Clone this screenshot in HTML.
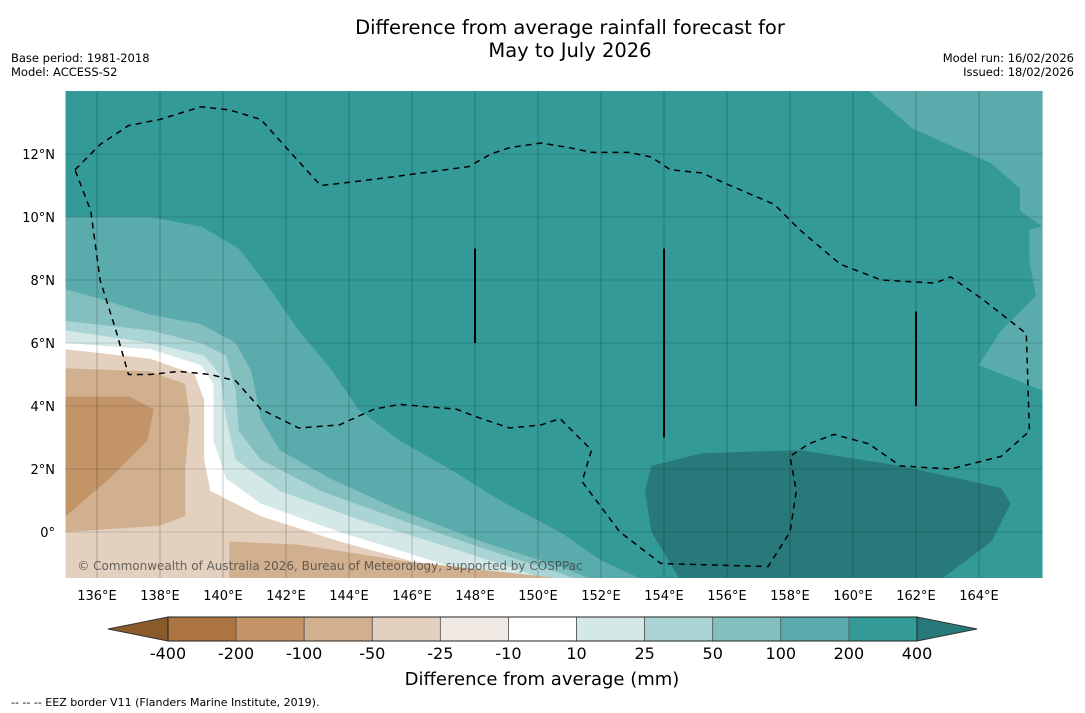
<!DOCTYPE html>
<html><head><meta charset="utf-8"><style>
body{margin:0;background:#fff;width:1085px;height:713px;overflow:hidden;font-family:"Liberation Sans","DejaVu Sans",sans-serif}
svg{display:block}
</style></head><body>
<svg id="c" width="1085" height="713" xmlns="http://www.w3.org/2000/svg">
<text x="570" y="34" font-size="19.5" text-anchor="middle" font-family="DejaVu Sans,sans-serif">Difference from average rainfall forecast for</text>
<text x="570" y="57" font-size="19.5" text-anchor="middle" font-family="DejaVu Sans,sans-serif">May to July 2026</text>
<text x="11" y="62" font-size="11.5" font-family="DejaVu Sans,sans-serif">Base period: 1981-2018</text>
<text x="11" y="76" font-size="11.5" font-family="DejaVu Sans,sans-serif">Model: ACCESS-S2</text>
<text x="1074" y="62" font-size="11.5" text-anchor="end" font-family="DejaVu Sans,sans-serif">Model run: 16/02/2026</text>
<text x="1074" y="76" font-size="11.5" text-anchor="end" font-family="DejaVu Sans,sans-serif">Issued: 18/02/2026</text>
<g id="map"></g>
<g id="cb"></g>
<text x="542" y="685" font-size="18" text-anchor="middle" font-family="DejaVu Sans,sans-serif">Difference from average (mm)</text>
<text x="11" y="706" font-size="11" font-family="DejaVu Sans,sans-serif">--  --  -- EEZ border V11 (Flanders Marine Institute, 2019).</text>
</svg>
<script>
const levels=["-400","-200","-100","-50","-25","-10","10","25","50","100","200","400"];
const colors=["#ac7440","#c29468","#d1b08f","#e3d0bf","#f0e9e4","#ffffff","#d3e8e7","#aad5d4","#84bfbf","#5aabab","#339a98"];
const lonTicks=[136,138,140,142,144,146,148,150,152,154,156,158,160,162,164];
const latTicks=[0,2,4,6,8,10,12];
const L100=[[135,10],[137.7,10],[139.3,9.7],[140.5,9.0],[141.5,7.7],[142.4,6.4],[143.4,5.2],[144.3,3.9],[145.6,2.9],[147.2,2.0],[148.8,1.0],[150.7,0.0],[152.0,-0.9],[153.3,-1.5]];
const L50=[[135,7.7],[136.1,7.4],[137.7,6.9],[139.3,6.6],[140.4,6.0],[140.9,5.1],[141.2,3.6],[141.8,2.6],[143.4,1.7],[145.6,0.7],[148.2,-0.3],[150.7,-1.1],[151.7,-1.5]];
const L25=[[135,6.7],[137.7,6.4],[139.3,6.0],[140.1,5.6],[140.4,4.5],[140.5,3.2],[141.2,2.3],[143.1,1.3],[145.6,0.4],[148.2,-0.5],[150.7,-1.3],[151.2,-1.5]];
const L10=[[135,6.4],[137.7,6.0],[139.4,5.6],[139.9,5.0],[140.1,3.6],[140.4,2.3],[141.8,1.3],[144.3,0.4],[146.9,-0.4],[149.4,-1.2],[150.2,-1.5]];
const Lm10=[[135,6.0],[137.7,5.8],[139.3,5.3],[139.7,4.7],[139.7,2.9],[140.1,1.7],[141.2,0.9],[143.7,0.0],[146.3,-0.8],[148.5,-1.5]];
const Lm25=[[135,5.8],[137.7,5.5],[139.1,5.0],[139.4,4.2],[139.4,2.3],[139.6,1.3],[141.2,0.5],[143.7,-0.3],[145.9,-0.9],[147.2,-1.5]];
const Pm50a=[[135,5.2],[137.7,5.1],[138.8,4.7],[138.95,3.6],[138.8,2.0],[138.8,0.5],[138.0,0.2],[135,0.0]];
const Pm50b=[[140.2,-0.3],[142.4,-0.4],[145.6,-0.9],[148.2,-1.2],[151.0,-1.5],[140.2,-1.5]];
const Pm100=[[135,4.3],[137.0,4.3],[137.8,3.9],[137.6,2.9],[136.4,1.7],[135,0.5]];
const P400=[[153.6,2.1],[155.2,2.5],[158.3,2.6],[161.5,2.1],[164.7,1.4],[165.0,0.9],[164.4,-0.3],[162.8,-1.5],[154.5,-1.5],[153.6,0.0],[153.4,1.3]];
const PtopRight=[[160.5,14],[161.9,12.8],[164.4,11.7],[165.3,10.9],[165.3,10.2],[166,9.7],[166,14]];
const PrightSide=[[166,9.7],[165.6,9.6],[165.6,8.6],[165.8,7.5],[164.7,6.4],[164.0,5.3],[166,4.5]];
const eez=[[135.3,11.5],[136.1,12.3],[137.0,12.9],[138.0,13.1],[139.3,13.5],[140.2,13.4],[141.2,13.1],[142.1,12.1],[143.1,11.0],[144.0,11.1],[145.6,11.3],[147.8,11.6],[148.5,12.0],[149.1,12.2],[150.1,12.35],[151.0,12.2],[151.7,12.05],[152.9,12.05],[153.6,11.9],[154.2,11.5],[155.2,11.4],[156.1,11.0],[157.5,10.4],[158.3,9.6],[159.6,8.5],[160.9,8.0],[162.6,7.9],[163.1,8.1],[164.1,7.4],[165.5,6.3],[165.6,3.2],[164.7,2.4],[163.1,2.0],[161.5,2.1],[160.5,2.8],[159.4,3.1],[158.6,2.8],[158.0,2.4],[158.2,1.3],[158.0,0.0],[157.3,-1.1],[153.9,-1.0],[152.6,0.0],[151.4,1.6],[151.7,2.6],[150.7,3.6],[150.1,3.4],[149.1,3.3],[148.2,3.6],[147.4,3.9],[145.6,4.05],[144.8,3.9],[143.7,3.4],[142.4,3.3],[141.2,3.9],[140.4,4.8],[139.6,5.0],[138.6,5.1],[137.7,5.0],[137.0,5.0],[136.6,6.4],[136.1,8.0],[135.8,10.2],[135.3,11.5]];
const segs=[[148,6,9],[154,3,9],[162,4,7]];

const NS="http://www.w3.org/2000/svg";
const X0=65.5,Y0=91,S=31.5,LON0=135,LAT0=14,W=977,H=487;
const px=lon=>X0+(lon-LON0)*S, py=lat=>Y0+(LAT0-lat)*S;
function mk(tag,attrs,parent){const e=document.createElementNS(NS,tag);for(const k in attrs)e.setAttribute(k,attrs[k]);parent.appendChild(e);return e;}
const map=document.getElementById('map');
const defs=mk('defs',{},map);
const cp=mk('clipPath',{id:'clip'},defs);
mk('rect',{x:X0,y:Y0,width:W,height:H},cp);
const g=mk('g',{'clip-path':'url(#clip)'},map);
let bg=mk('rect',{x:X0,y:Y0,width:W,height:H,fill:colors[10]},g);


const pts=a=>a.map(p=>px(p[0]).toFixed(1)+','+py(p[1]).toFixed(1)).join(' ');
const corner=[[135,-1.5]];
function band(arr,col,name,close){
  const el=mk('polygon',{points:pts(close?arr.concat(corner):arr),fill:col},g);
  
  
}
band(PtopRight,colors[9],'band-100-200-north',false);
band(PrightSide,colors[9],'band-100-200-east',false);
band(P400,'#287a7a','band-above-400',false);
band(L100,colors[9],'band-100-200',true);
band(L50,colors[8],'band-50-100',true);
band(L25,colors[7],'band-25-50',true);
band(L10,colors[6],'band-10-25',true);
band(Lm10,colors[5],'band-neutral',true);
band(Lm25,colors[4],'band-minus10-25',true);
const m25=mk('polygon',{points:pts(Lm25.concat(corner)),fill:colors[3]},g);


band(Pm50a,colors[2],'band-minus50-100-west',false);
band(Pm50b,colors[2],'band-minus50-100-south',false);
band(Pm100,colors[1],'band-minus100-200',false);
lonTicks.forEach(l=>{
  const ln=mk('line',{x1:px(l),x2:px(l),y1:Y0,y2:Y0+H,stroke:'rgba(0,0,0,0.28)','stroke-width':0.8},g);
  
  
  const t=mk('text',{x:px(l),y:600,'font-size':13,'text-anchor':'middle','font-family':'DejaVu Sans,sans-serif'},map);
  t.textContent=l+'°E';
  
  
});
latTicks.forEach(l=>{
  const ln=mk('line',{x1:X0,x2:X0+W,y1:py(l),y2:py(l),stroke:'rgba(0,0,0,0.4)','stroke-width':0.8,'stroke-dasharray':'1,1'},g);
  
  
  const t=mk('text',{x:55,y:py(l)+5,'font-size':13,'text-anchor':'end','font-family':'DejaVu Sans,sans-serif'},map);
  t.textContent=l===0?'0°':l+'°N';
  
  
});
const ez=mk('polyline',{points:pts(eez),fill:'none',stroke:'#000','stroke-width':1.5,'stroke-dasharray':'6,5'},g);


segs.forEach(s=>{
  const ln=mk('line',{x1:px(s[0]),x2:px(s[0]),y1:py(s[2]),y2:py(s[1]),stroke:'#000','stroke-width':2},g);
  
  
});
const cr=mk('text',{x:330,y:570,'font-size':12,'text-anchor':'middle',fill:'rgba(60,60,60,0.75)','font-family':'DejaVu Sans,sans-serif'},map);
cr.textContent='© Commonwealth of Australia 2026, Bureau of Meteorology, supported by COSPPac';


const cb=document.getElementById('cb');
const CX=168,CW=749,CY=617,CH=24,n=colors.length,sw=CW/n;
const lt=mk('polygon',{points:`${CX},${CY} 108,${CY+CH/2} ${CX},${CY+CH}`,fill:'#8b5a2b',stroke:'#333','stroke-width':1},cb);


const rt=mk('polygon',{points:`${CX+CW},${CY} 977,${CY+CH/2} ${CX+CW},${CY+CH}`,fill:'#287a7a',stroke:'#333','stroke-width':1},cb);


colors.forEach((c,i)=>{
  const r=mk('rect',{x:CX+i*sw,y:CY,width:sw,height:CH,fill:c,stroke:'#555','stroke-width':0.8},cb);
  
  
});
mk('rect',{x:CX,y:CY,width:CW,height:CH,fill:'none',stroke:'#222','stroke-width':1},cb);
levels.forEach((l,i)=>{
  const t=mk('text',{x:CX+i*sw,y:659,'font-size':16,'text-anchor':'middle','font-family':'DejaVu Sans,sans-serif'},cb);
  t.textContent=l;
  
  
});
</script>
</body></html>
